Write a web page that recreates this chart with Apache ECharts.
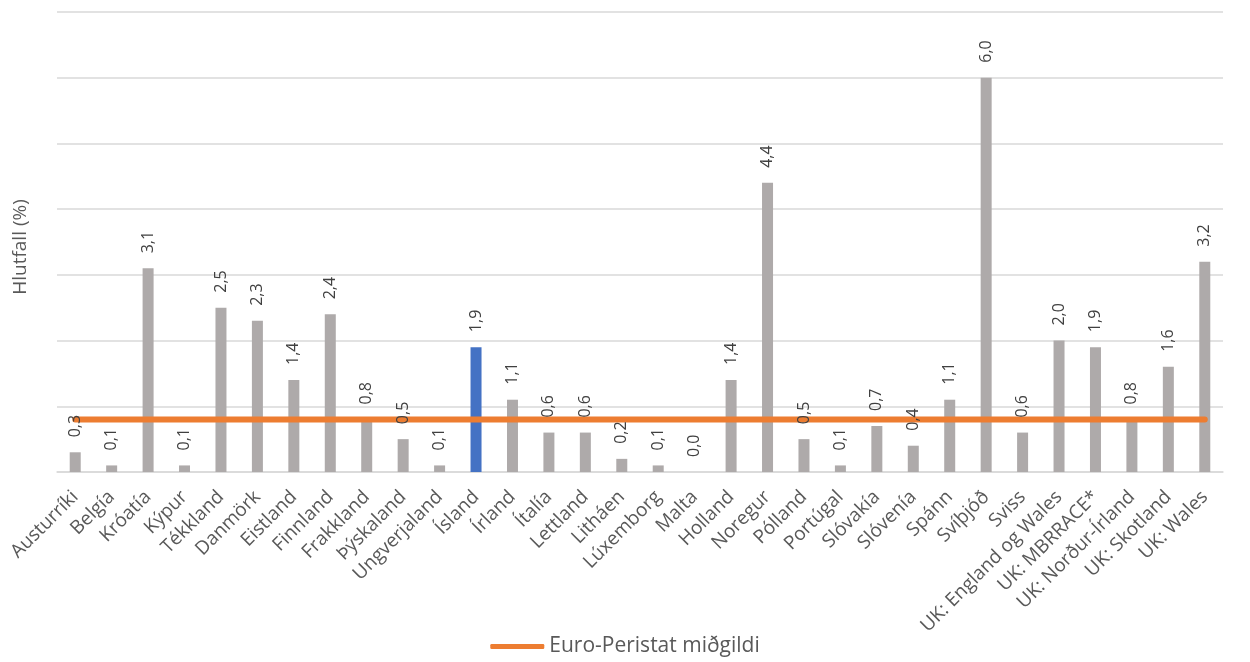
<!DOCTYPE html>
<html>
<head>
<meta charset="utf-8">
<script src="https://cdn.jsdelivr.net/npm/echarts@6/dist/echarts.min.js"></script>
<style>
  html, body { margin: 0; padding: 0; background: #ffffff; }
  #chart { width: 1250px; height: 662px; }
</style>
</head>
<body>
<div id="chart"></div>
<script>
// Andvana fæðingar eftir löndum (%), með miðgildi Euro-Peristat
const categories = [
  'Austurríki', 'Belgía', 'Króatía', 'Kýpur', 'Tékkland', 'Danmörk', 'Eistland',
  'Finnland', 'Frakkland', 'Þýskaland', 'Ungverjaland', 'Ísland', 'Írland', 'Ítalía',
  'Lettland', 'Litháen', 'Lúxemborg', 'Malta', 'Holland', 'Noregur', 'Pólland',
  'Portúgal', 'Slóvakía', 'Slóvenía', 'Spánn', 'Svíþjóð', 'Sviss',
  'UK: England og Wales', 'UK: MBRRACE*', 'UK: Norður-Írland', 'UK: Skotland', 'UK: Wales'
];
const values = [
  0.3, 0.1, 3.1, 0.1, 2.5, 2.3, 1.4,
  2.4, 0.8, 0.5, 0.1, 1.9, 1.1, 0.6,
  0.6, 0.2, 0.1, 0.0, 1.4, 4.4, 0.5,
  0.1, 0.7, 0.4, 1.1, 6.0, 0.6,
  2.0, 1.9, 0.8, 1.6, 3.2
];
const medianName = 'Euro-Peristat miðgildi';
const medianValue = 0.8;
const highlighted = 'Ísland';
const yTicks = [0, 1, 2, 3, 4, 5, 6, 7];

const FONT = '"Open Sans", sans-serif';
const GREY = '#AEAAAA';
const BLUE = '#4472C4';
const ORANGE = '#ED7D31';

const chart = echarts.init(document.getElementById('chart'), null, { renderer: 'canvas' });

const barData = categories.map((c, i) => ({
  value: values[i],
  itemStyle: { color: c === highlighted ? BLUE : GREY }
}));
const medianData = categories.map(() => medianValue);

const valueLabel = {
  show: true,
  position: 'top',
  rotate: 90,
  align: 'left',
  verticalAlign: 'middle',
  distance: 15,
  fontFamily: FONT,
  fontSize: 16,
  color: '#404040',
  formatter: p => p.value.toFixed(1).replace('.', ',')
};

chart.setOption({
  animation: false,
  backgroundColor: '#ffffff',
  textStyle: { fontFamily: FONT },
  grid: { left: 57, right: 27, top: 12, bottom: 190, containLabel: false },
  legend: {
    bottom: 0,
    left: 'center',
    data: [medianName],
    icon: 'roundRect',
    itemWidth: 54,
    itemHeight: 5,
    textStyle: { fontFamily: FONT, fontSize: 21, color: '#595959' }
  },
  xAxis: {
    type: 'category',
    data: categories,
    axisTick: { show: false },
    axisLine: { lineStyle: { color: '#D9D9D9', width: 1.5 } },
    axisLabel: {
      interval: 0,
      rotate: 45,
      margin: 22,
      fontFamily: FONT,
      fontSize: 19,
      color: '#595959'
    }
  },
  yAxis: {
    type: 'value',
    min: yTicks[0],
    max: yTicks[yTicks.length - 1],
    interval: 1,
    name: 'Hlutfall (%)',
    nameLocation: 'middle',
    nameGap: 27,
    nameTextStyle: { fontFamily: FONT, fontSize: 19, color: '#595959', padding: [0, 10, 0, 0] },
    axisLabel: { show: false },
    axisLine: { show: false },
    axisTick: { show: false },
    splitLine: { lineStyle: { color: '#D9D9D9', width: 1.5 } }
  },
  series: [
    {
      type: 'bar',
      name: 'Hlutfall',
      data: barData,
      barWidth: 11,
      z: 2
    },
    {
      type: 'line',
      name: medianName,
      data: medianData,
      z: 3,
      showSymbol: false,
      symbol: 'none',
      itemStyle: { color: ORANGE },
      lineStyle: { color: ORANGE, width: 6, cap: 'round' }
    },
    {
      // transparent twin of the bars so the value labels sit above the median line
      type: 'bar',
      name: 'Gildi',
      data: values,
      barWidth: 11,
      barGap: '-100%',
      z: 4,
      silent: true,
      itemStyle: { color: 'rgba(0,0,0,0)' },
      label: valueLabel
    }
  ]
});
</script>
</body>
</html>
